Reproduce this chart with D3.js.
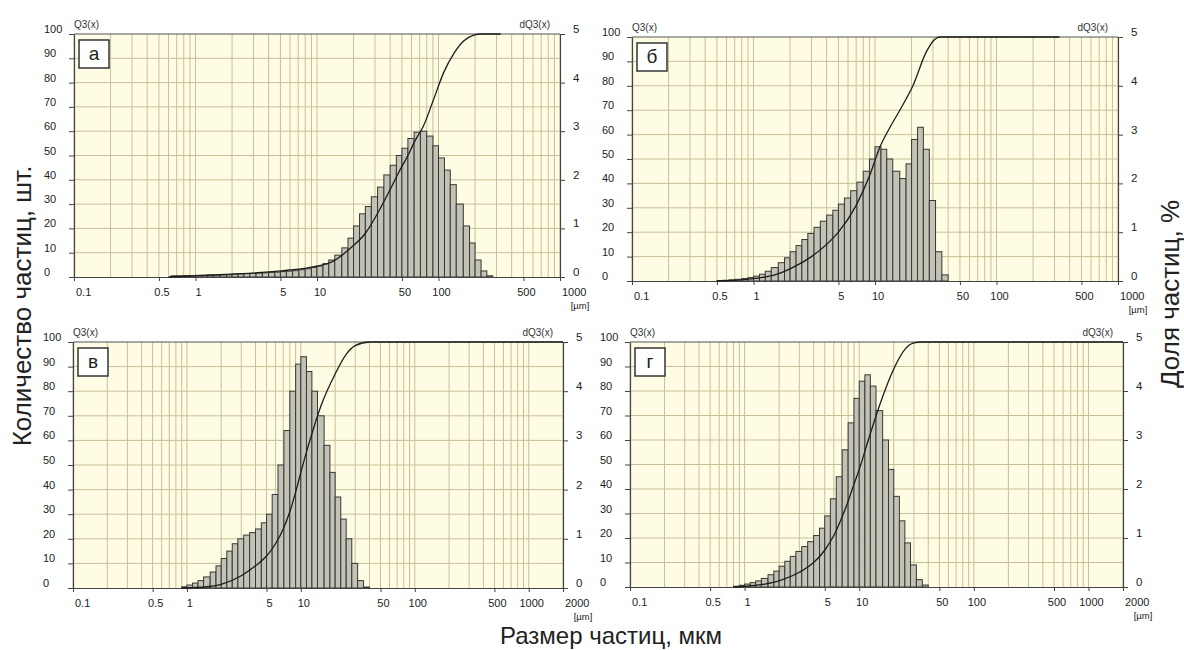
<!DOCTYPE html>
<html>
<head>
<meta charset="utf-8">
<script src="https://cdn.jsdelivr.net/npm/d3@7"></script>
<style>
  html, body { margin: 0; padding: 0; background: #fff; }
</style>
</head>
<body>
<div id="chart"></div>
<script>
// size classes (µm), bin i spans classEdges[i] .. classEdges[i+1]
const classEdges = [0.5, 0.56, 0.63, 0.71, 0.8, 0.9, 1, 1.12, 1.25, 1.4, 1.6, 1.8, 2, 2.24, 2.5, 2.8,
    3.15, 3.55, 4, 4.5, 5, 5.6, 6.3, 7.1, 8, 9, 10, 11.2, 12.5, 14, 16, 18, 20, 22.4, 25, 28, 31.5,
    35.5, 40, 45, 50, 56, 63, 71, 80, 90, 100, 112, 125, 140, 160, 180, 200, 224, 250, 280, 315];

// dQ3(x), % per class
const dQ3A = [0, 0, 0.025, 0.025, 0.03, 0.03, 0.035, 0.035, 0.04, 0.04, 0.045, 0.045, 0.06, 0.065,
    0.07, 0.075, 0.08, 0.085, 0.095, 0.1, 0.11, 0.12, 0.13, 0.15, 0.17, 0.195, 0.225, 0.275, 0.35,
    0.45, 0.6, 0.8, 1.05, 1.3, 1.45, 1.65, 1.85, 2.1, 2.3, 2.5, 2.65, 2.85, 2.98, 3.0, 2.9, 2.7,
    2.45, 2.2, 1.9, 1.5, 1.05, 0.7, 0.35, 0.125, 0.025];
const dQ3B = [0.01, 0.015, 0.025, 0.035, 0.05, 0.07, 0.1, 0.14, 0.2, 0.275, 0.375, 0.475, 0.6, 0.725,
    0.85, 0.975, 1.1, 1.225, 1.35, 1.45, 1.575, 1.7, 1.85, 2.025, 2.25, 2.5, 2.75, 2.7, 2.5, 2.25,
    2.1, 2.4, 2.9, 3.15, 2.7, 1.65, 0.6, 0.125];
const dQ3V = [0, 0, 0, 0, 0, 0.025, 0.06, 0.1, 0.15, 0.225, 0.325, 0.45, 0.6, 0.75, 0.9, 1.0, 1.075,
    1.125, 1.2, 1.325, 1.5, 1.9, 2.5, 3.2, 4.0, 4.55, 4.7, 4.4, 4.0, 3.5, 2.9, 2.35, 1.85, 1.4, 1.0,
    0.5, 0.15, 0.02];
const dQ3G = [0, 0, 0, 0, 0.015, 0.035, 0.06, 0.09, 0.125, 0.175, 0.25, 0.325, 0.425, 0.525, 0.625,
    0.725, 0.825, 0.925, 1.05, 1.2, 1.45, 1.8, 2.25, 2.8, 3.35, 3.85, 4.2, 4.33, 4.1, 3.6, 3.0, 2.4,
    1.85, 1.35, 0.9, 0.45, 0.15, 0.04];

// Q3(x), cumulative %  [size µm, Q3]
const q3A = [[0.6, 0], [1, 0.5], [2, 1.2], [5, 2.5], [10, 4.5], [13, 6], [19, 12], [25, 18], [33, 28],
    [40, 36], [47, 43], [56, 50], [64, 56], [75, 62], [91, 73], [110, 84], [134, 92], [160, 97],
    [195, 99.5], [225, 100], [325, 100]];
const q3B = [[0.5, 0], [1, 1], [1.5, 2.5], [2, 5], [3, 10], [4, 15], [5, 20], [7, 31], [9, 43],
    [11, 55], [13.3, 63], [16, 70], [20.5, 80], [26.5, 94], [31, 99], [34, 100], [330, 100]];
const q3V = [[0.9, 0], [1.5, 0.5], [2, 1.5], [3, 5], [4, 9], [5, 13], [6, 18], [7, 24], [8, 31],
    [9, 39], [10, 47], [12, 60], [15, 74], [20, 87], [25, 95], [30, 98.5], [40, 100], [2000, 100]];
const q3G = [[0.8, 0], [1, 0.3], [1.5, 1.2], [2, 2.5], [3, 6], [4, 10], [5, 15], [6, 21], [7, 28],
    [8, 35], [9, 42], [10, 48], [12, 60], [15, 74], [20, 89], [25, 97], [30, 99.6], [35, 100], [2000, 100]];

// tick labels
const yLeftTicks = [0, 10, 20, 30, 40, 50, 60, 70, 80, 90, 100];
const yRightTicks = [0, 1, 2, 3, 4, 5];
const xLabelsTop = [0.1, 0.5, 1, 5, 10, 50, 100, 500, 1000];
const xLabelsBottom = [0.1, 0.5, 1, 5, 10, 50, 100, 500, 1000, 2000];
const panelNames = ["а", "б", "в", "г"];

const width = 1184, height = 650;
const font = "'Liberation Sans', Arial, sans-serif";

const svg = d3.select("#chart")
    .append("svg")
    .attr("width", width)
    .attr("height", height)
    .style("font-family", font);

svg.append("rect").attr("width", width).attr("height", height).attr("fill", "#fff");

const panels = [
    { name: panelNames[0], left: 74, right: 560, top: 34, bottom: 277, xMax: 1000, labels: xLabelsTop, hist: dQ3A, cum: q3A },
    { name: panelNames[1], left: 632, right: 1118, top: 37, bottom: 281, xMax: 1000, labels: xLabelsTop, hist: dQ3B, cum: q3B },
    { name: panelNames[2], left: 73, right: 563, top: 342, bottom: 588, xMax: 2000, labels: xLabelsBottom, hist: dQ3V, cum: q3V },
    { name: panelNames[3], left: 630, right: 1123, top: 342, bottom: 587, xMax: 2000, labels: xLabelsBottom, hist: dQ3G, cum: q3G }
];

function drawPanel(p) {
    const x = d3.scaleLog().domain([0.1, p.xMax]).range([p.left, p.right]);
    const yL = d3.scaleLinear().domain([0, 100]).range([p.bottom, p.top]);
    const yR = d3.scaleLinear().domain([0, 5]).range([p.bottom, p.top]);

    const g = svg.append("g");

    // plot background
    g.append("rect")
        .attr("x", p.left).attr("y", p.top)
        .attr("width", p.right - p.left).attr("height", p.bottom - p.top)
        .attr("fill", "#fffce4");

    // grid
    g.append("g").selectAll("line")
        .data(x.ticks())
        .join("line")
        .attr("x1", d => x(d)).attr("x2", d => x(d))
        .attr("y1", p.top).attr("y2", p.bottom)
        .attr("stroke", "#c8bf98").attr("stroke-width", 1);

    g.append("g").selectAll("line")
        .data(yLeftTicks.slice(1, -1))
        .join("line")
        .attr("x1", p.left).attr("x2", p.right)
        .attr("y1", d => yL(d)).attr("y2", d => yL(d))
        .attr("stroke", "#c8bf98").attr("stroke-width", 1);

    // histogram
    const bins = p.hist
        .map((v, i) => ({ x0: classEdges[i], x1: classEdges[i + 1], v: v }))
        .filter(d => d.v > 0);

    g.append("g").selectAll("rect")
        .data(bins)
        .join("rect")
        .attr("x", d => x(d.x0))
        .attr("width", d => x(d.x1) - x(d.x0))
        .attr("y", d => yR(d.v))
        .attr("height", d => p.bottom - yR(d.v))
        .attr("fill", "#c2c2b6")
        .attr("stroke", "#383833")
        .attr("stroke-width", 1);

    // frame
    g.append("line")
        .attr("x1", p.left).attr("x2", p.right)
        .attr("y1", p.top).attr("y2", p.top)
        .attr("stroke", "#555").attr("stroke-width", 1.2);

    // axes
    const axL = g.append("g")
        .attr("transform", `translate(${p.left},0)`)
        .call(d3.axisLeft(yL).tickValues(yLeftTicks).tickSize(5).tickSizeOuter(0).tickFormat(""));
    const axR = g.append("g")
        .attr("transform", `translate(${p.right},0)`)
        .call(d3.axisRight(yR).tickValues(yRightTicks).tickSize(5).tickSizeOuter(0).tickFormat(""));
    const axB = g.append("g")
        .attr("transform", `translate(0,${p.bottom})`)
        .call(d3.axisBottom(x).tickValues(p.labels).tickSize(4).tickSizeOuter(0).tickFormat(""));
    [axL, axR, axB].forEach(a => {
        a.select(".domain").attr("stroke", "#444").attr("stroke-width", 1.2);
        a.selectAll(".tick line").attr("stroke", "#444");
    });

    // cumulative curve
    const line = d3.line()
        .x(d => x(d[0]))
        .y(d => yL(d[1]))
        .curve(d3.curveMonotoneX);
    g.append("path")
        .datum(p.cum)
        .attr("d", line)
        .attr("fill", "none")
        .attr("stroke", "#1c1c1c")
        .attr("stroke-width", 1.3);

    // tick labels
    g.append("g").selectAll("text")
        .data(yLeftTicks)
        .join("text")
        .attr("x", p.left - 30)
        .attr("y", d => yL(d) - 1)
        .attr("font-size", 11)
        .attr("fill", "#222")
        .text(d => d);

    g.append("g").selectAll("text")
        .data(yRightTicks)
        .join("text")
        .attr("x", p.right + 13)
        .attr("y", d => yR(d) - 1)
        .attr("font-size", 11.5)
        .attr("fill", "#222")
        .text(d => d);

    const last = p.labels.length - 1;
    g.append("g").selectAll("text")
        .data(p.labels)
        .join("text")
        .attr("x", (d, i) => (i === 0 || i === last) ? x(d) + 2 : x(d) + 3)
        .attr("y", p.bottom + 19)
        .attr("text-anchor", (d, i) => (i === 0 || i === last) ? "start" : "middle")
        .attr("font-size", 11)
        .attr("fill", "#222")
        .text(d => String(d));

    g.append("text")
        .attr("x", p.right + 20)
        .attr("y", p.bottom + 32)
        .attr("text-anchor", "middle")
        .attr("font-size", 9.5)
        .attr("fill", "#222")
        .text("[µm]");

    g.append("text")
        .attr("x", p.left)
        .attr("y", p.top - 6)
        .attr("font-size", 10)
        .attr("fill", "#333")
        .text("Q3(x)");

    g.append("text")
        .attr("x", p.right - 10)
        .attr("y", p.top - 6)
        .attr("text-anchor", "end")
        .attr("font-size", 10)
        .attr("fill", "#333")
        .text("dQ3(x)");

    // panel letter
    g.append("rect")
        .attr("x", p.left + 5).attr("y", p.top + 6)
        .attr("width", 30).attr("height", 28)
        .attr("fill", "#fff")
        .attr("stroke", "#333").attr("stroke-width", 1.5);
    g.append("text")
        .attr("x", p.left + 20).attr("y", p.top + 26)
        .attr("text-anchor", "middle")
        .attr("font-size", 19)
        .attr("fill", "#222")
        .text(p.name);
}

panels.forEach(drawPanel);

// axis titles
svg.append("text")
    .attr("transform", "translate(31,306) rotate(-90)")
    .attr("text-anchor", "middle")
    .attr("font-size", 26)
    .attr("fill", "#222")
    .text("Количество частиц, шт.");

svg.append("text")
    .attr("transform", "translate(1179,294) rotate(-90)")
    .attr("text-anchor", "middle")
    .attr("font-size", 26)
    .attr("fill", "#222")
    .text("Доля частиц, %");

svg.append("text")
    .attr("x", 611)
    .attr("y", 644)
    .attr("text-anchor", "middle")
    .attr("font-size", 24)
    .attr("fill", "#222")
    .text("Размер частиц, мкм");
</script>
</body>
</html>
